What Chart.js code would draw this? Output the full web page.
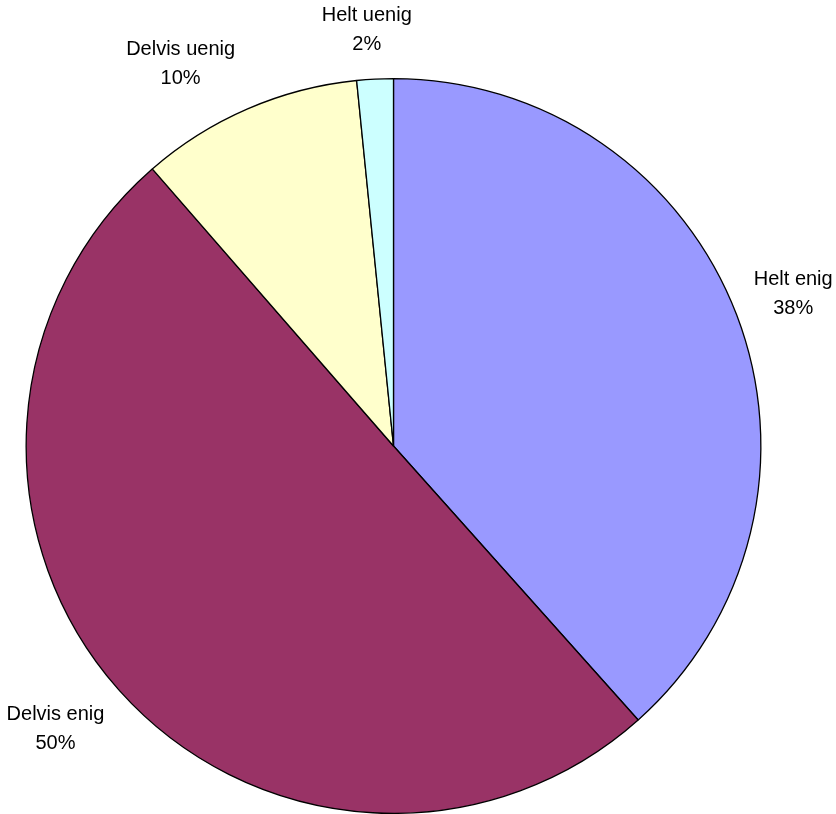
<!DOCTYPE html>
<html>
<head>
<meta charset="utf-8">
<script src="https://cdn.jsdelivr.net/npm/chart.js@4/dist/chart.umd.min.js"></script>
<style>
  html, body { margin: 0; padding: 0; background: #ffffff; }
  #wrap { width: 836px; height: 814px; position: relative; }
</style>
</head>
<body>
<div id="wrap"><canvas id="c" width="836" height="814"></canvas></div>
<script>
// ---- data ----
const categories = ['Helt enig', 'Delvis enig', 'Delvis uenig', 'Helt uenig'];
const values = [38.4, 50.2, 9.8, 1.6];
const sliceColors = ['#9999FF', '#993366', '#FFFFCC', '#CCFFFF'];

// label fine-tuning (kept separate from data)
const labelNudge = [[0, -8], [-10, 10], [-37, -7], [-5, -8]];

const labelPlugin = {
  id: 'outsideLabels',
  afterDraw(chart) {
    const ctx = chart.ctx;
    const meta = chart.getDatasetMeta(0);
    const total = values.reduce((a, b) => a + b, 0);
    ctx.save();
    ctx.font = "20px 'Liberation Sans', Arial, sans-serif";
    ctx.fillStyle = '#000000';
    ctx.textAlign = 'center';
    ctx.textBaseline = 'alphabetic';
    const gap = 21, lineH = 29, capH = 14.3;
    meta.data.forEach((arc, i) => {
      const p = arc.getProps(['x', 'y', 'startAngle', 'endAngle', 'outerRadius'], true);
      const mid = (p.startAngle + p.endAngle) / 2;
      const ux = Math.cos(mid), uy = Math.sin(mid);
      const l1 = categories[i];
      const l2 = Math.round(values[i] / total * 100) + '%';
      const w = Math.max(ctx.measureText(l1).width, ctx.measureText(l2).width);
      const h = capH + lineH;
      const ax = p.x + (p.outerRadius + gap) * ux;
      const ay = p.y + (p.outerRadius + gap) * uy;
      const cx = ax + ux * w / 2 + labelNudge[i][0];
      const cy = ay + uy * h / 2 + labelNudge[i][1];
      const b1 = cy - h / 2 + capH;
      ctx.fillText(l1, cx, b1);
      ctx.fillText(l2, cx, b1 + lineH);
    });
    ctx.restore();
  }
};

new Chart(document.getElementById('c'), {
  type: 'pie',
  data: {
    labels: categories,
    datasets: [{
      data: values,
      backgroundColor: sliceColors,
      borderColor: '#000000',
      borderWidth: 1.3,
      borderAlign: 'center'
    }]
  },
  options: {
    responsive: false,
    animation: false,
    devicePixelRatio: 1,
    layout: { padding: { left: 24, right: 73, top: 78, bottom: -2 } },
    plugins: {
      legend: { display: false },
      tooltip: { enabled: false }
    }
  },
  plugins: [labelPlugin]
});
</script>
</body>
</html>
